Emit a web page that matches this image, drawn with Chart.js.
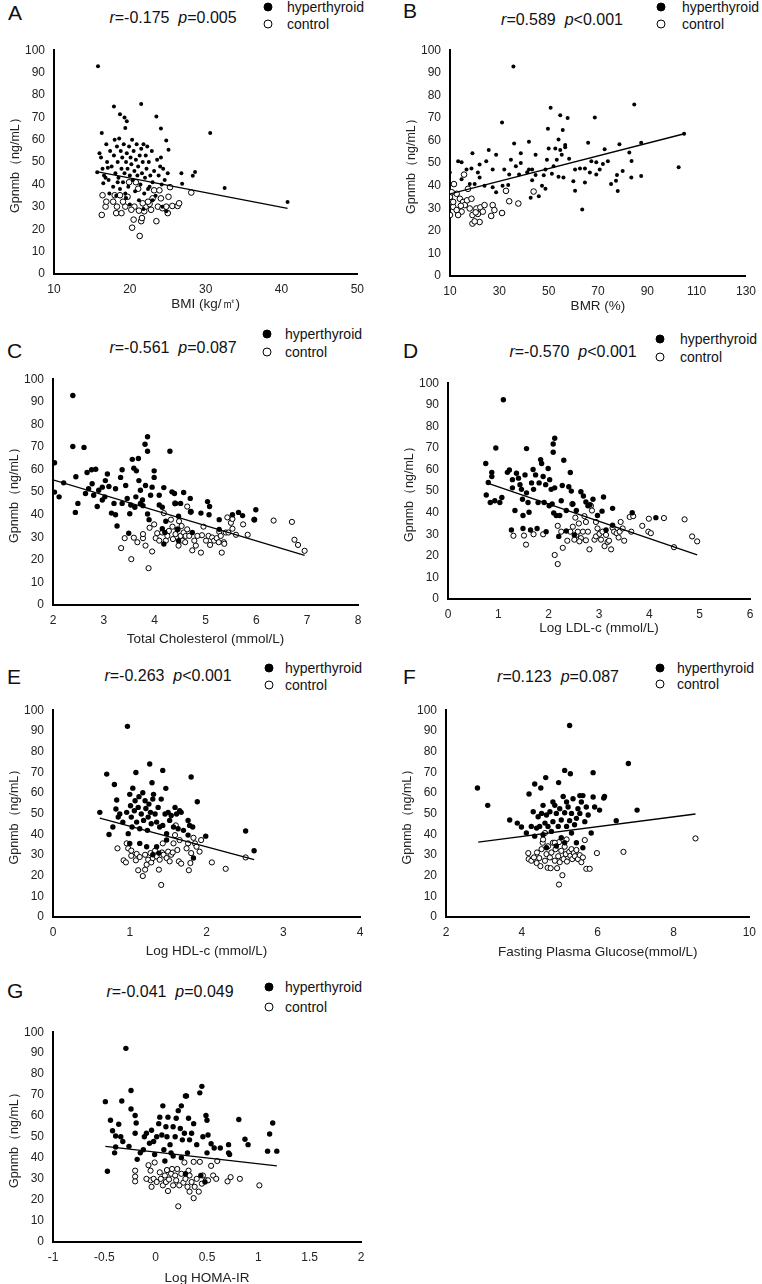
<!DOCTYPE html>
<html>
<head>
<meta charset="utf-8">
<script src="https://cdn.jsdelivr.net/npm/chart.js@4/dist/chart.umd.min.js"></script>
<style>
body{margin:0;background:#fff;width:762px;height:1284px;position:relative;overflow:hidden;font-family:Arial,"Liberation Sans",sans-serif;color:#111}
.box{position:absolute}
.tag{position:absolute;font-size:21px;line-height:1}
.stat{position:absolute;font-size:16px;white-space:nowrap;transform:translate(-50%,-50%)}
.key{position:absolute;font-size:14px;white-space:nowrap;line-height:1;transform:translateY(-50%)}
.mk{position:absolute;width:7px;height:7px;border-radius:50%;border:1px solid #000;transform:translate(-50%,-50%)}
</style>
</head>
<body>
<script>
// y axis is the same everywhere
const yTitle = 'Gpnmb（ng/mL）'
const yAxis = [0, 100, 10]

// A - BMI
const bmiAxis = [10, 50, 10]
const bmiHyper = [[15.8,92.8],[17.9,74.8],[21.5,76],[18.7,71.4],[19.3,69.9],[19.6,68.3],[23.5,70.4],[24.1,65],[19.4,65.2],[16.3,63],[30.6,63],[24.8,59.6],[25.1,55.5],[32.5,38.4],[40.8,32.2],[26.8,45],[26.9,40.3],[28.3,43.9],[28.6,45.6],
 [15.7,45.5],[16.0,54],[16.2,52],[16.4,47],[16.5,40.5],[16.6,44],[16.9,58],[17.0,50],[17.1,47.5],[17.2,42],[17.4,55],[17.6,48],[17.8,39],[17.9,53],[18.0,60],[18.1,45],[18.2,35],[18.3,57],[18.4,50],[18.5,43],[18.6,60.5],[18.7,38],[18.8,55],[18.9,47],[19.0,52],[19.1,41],[19.2,58],[19.3,45],[19.4,36],[19.5,50],[19.6,54],[19.7,47],[19.8,39],[19.9,57],[20.0,44],[20.1,52],[20.2,49],[20.3,60],[20.4,42],[20.5,55],[20.6,46],[20.7,37],[20.8,51],[20.9,58],[21.0,44],[21.1,48],[21.2,33],[21.3,53],[21.4,40],[21.5,56],[21.6,45],[21.7,50],[21.8,58],[21.9,36],[22.0,43],[22.1,53],[22.2,47],[22.3,57],[22.4,38],[22.5,50],[22.7,44],[22.9,55],[23.0,41],[23.2,46],[23.4,35],[23.6,51],[23.8,44],[24.0,48],[24.1,52],[24.2,40],[24.3,30],[24.4,47],[24.6,42],[24.8,28],[25.0,45],[20.0,31],[21.8,29],[23.0,33],[19.5,34],[22.6,39],[18.4,41],[17.3,36],[16.8,43]]
const bmiControl = [[16.3,26.4],[16.4,35.2],[16.8,30.1],[16.9,32.3],[17.8,32.3],[18,35.2],[18.2,27.2],[18.3,30.1],[18.9,27.2],[19.1,32.3],[19.4,30.1],[19.7,34.5],[19.9,41],[20.3,20.7],[20.5,24.3],[20.6,30.1],[20.8,41],[21.1,38.1],[21.2,28.3],[21.3,17],[21.5,23.6],[21.6,25],[21.9,28],[22.1,30.1],[22.6,31.3],[22.8,28.7],[23,33.8],[23.2,37.4],[23.5,23.6],[23.7,30.1],[23.9,37.4],[24.1,33.8],[24.3,29.4],[24.8,30.1],[25,27.2],[25.1,34.5],[25.3,38.8],[25.6,30.4],[26.3,30.4],[26.5,31.6],[28.1,36.4],[21.7,31.6],[22.4,32.3],[20.2,28.7],[18.7,35.2]]
const bmiFit = [[15.8,45.6],[40.8,29.3]]

// B - BMR
const bmrAxis = [10, 130, 20]
const bmrHyper = [[35.7,92.8],[31.1,68],[50.8,74.5],[54.7,71.2],[57.7,70],[68.7,70.2],[84.7,76],[55.7,64.7],[49.7,65.2],[104.9,63],[102.7,48.2],[63.6,29.5],[87.5,44.3],[87.5,59],[78.7,58.4],[72.7,56.1],[66,59],[82.7,54.7],[83.6,50.9],[83.5,43.6],[80,46.5],[77.7,44.7],[77.3,42.2],[78,37.6],[75.3,40.7],[74,50.8],[72,49.6],[69.3,50.4],[69.3,45],[66.7,45.8],[64.7,41.4],[62.7,47.6],[64.7,47.6],[60.7,47.2],[60.7,37.8],[58.3,51.9],[56.7,58],[56.7,57],[54.7,55.8],[54,60.4],[52.7,56.5],[52,48.6],[50,56.5],[49.3,51.5],[48.7,47.2],[48,44.6],[47.3,40],[46,35.3],[44.7,53.7],[43.3,47.2],[43.3,42.4],[42,59.4],[41.3,46],[38.7,54.4],[38.7,50],[36.7,48.6],[36,58.7],[34.7,51.5],[34,45],[33.6,40.3],[32,47.2],[31.3,40],[28.7,53.7],[27.3,47.2],[25.7,55.8],[24.7,50.8],[24,40],[22,49.4],[21.3,45.8],[20,40.7],[19.1,54.4],[18.7,47.6],[14.7,50.4],[13.3,50.8],[14.7,42.9],[9.9,45.8],[56,43.6],[51.3,45.3],[54,43.9],[44.7,44.7],[60,42],[48.7,38.6],[42.7,34.7],[27.3,39.3],[28.7,37.1],[22,43.6],[16.7,47.2],[18,40.7],[67.3,50.8],[70.7,47.2],[42,47.2],[38,45],[53.3,51.5],[55.3,53.7]]
const bmrControl = [[11.6,40.7],[15.7,44.9],[17.3,38.6],[10,35],[10,27],[10.7,32.8],[11.3,30.6],[12.7,36.4],[14,34.2],[14.7,28.5],[15.3,32.8],[16,31.4],[16.9,33.5],[18,29.9],[18.7,34.2],[19.1,27],[19.1,23.2],[20.7,29.9],[21.3,27.5],[22,23.9],[22.3,30.4],[23.3,28.5],[24,31.4],[27.3,31.4],[26.7,26.6],[28,29.2],[31.1,27.9],[32.7,37.7],[34,33.1],[37.7,32.1],[43.9,37.4],[12.7,29.2],[13.3,27],[11.3,32.8],[14.4,31.1],[20,24.2],[20.4,28.2],[10.7,37.1]]
const bmrFit = [[10,36.4],[105,63]]

// C - total cholesterol
const tcAxis = [2, 8, 1]
const tcHyper = [[2.39,92.8],[2.39,70.2],[2.61,69.8],[2.03,63],[2.03,50],[2.12,47.9],[2.21,54.1],[2.45,56.8],[2.44,41],[2.49,45],[2.64,49.4],[2.67,58.7],[2.76,59.9],[2.84,60.1],[2.77,53.7],[2.8,48.6],[2.87,43.6],[2.9,50.8],[2.97,52.2],[3.02,47.9],[3.07,58],[3.1,52.5],[3.15,40.7],[3.2,45],[3.23,51.5],[3.33,56.5],[3.36,59.9],[3.43,52.9],[3.46,47.2],[3.51,40.4],[3.56,64.5],[3.59,60.6],[3.68,64.9],[3.69,55.1],[3.72,50.8],[3.76,46.5],[3.81,71.2],[3.86,74.5],[3.82,52.9],[3.86,68.1],[3.92,48.6],[3.95,52.2],[3.99,59.4],[3.99,56.5],[3.64,59.4],[3.36,45],[3.53,44.3],[3.61,43.3],[3.72,45],[3.77,44],[3.86,40.3],[3.89,37.8],[4.09,44.3],[4.15,43.3],[4.18,52],[4.3,68.1],[4.34,50.1],[4.39,49.4],[4.41,45],[4.47,39.3],[4.51,45],[4.57,49.8],[4.7,47.2],[4.71,41.4],[4.91,40.7],[5.04,45.8],[5.07,40],[5.08,43.6],[5.27,37.8],[5.53,40],[5.65,41],[5.73,39.6],[5.96,37.8],[5.99,42.2],[4.2,32.1],[4.15,33.8],[3.49,31.8],[4.18,27],[4.47,28.5],[4.74,32.1],[5.27,33.5],[2.97,46.5],[3.23,40],[3.63,47.9],[4.09,48.6],[4.22,37.1],[4.45,33.5],[3.26,35],[2.7,51.5],[3.03,55.1]]
const tcControl = [[3.34,25.2],[3.41,29.6],[3.54,20.3],[3.59,29.8],[3.66,27.8],[3.77,29.6],[3.77,31.4],[3.82,26.3],[3.88,16.3],[3.9,34.2],[3.95,23.7],[3.99,35.7],[4.02,29.6],[4.05,31.8],[4.09,28.5],[4.15,32.1],[4.18,40.7],[4.22,28.5],[4.25,30.6],[4.28,32.8],[4.32,37.8],[4.35,34.7],[4.36,29.2],[4.4,45],[4.41,31.4],[4.45,33.5],[4.47,26.3],[4.48,37.1],[4.51,30.6],[4.53,35],[4.55,28.5],[4.57,32.1],[4.6,27.8],[4.61,30.6],[4.64,33.5],[4.64,43.6],[4.68,30.6],[4.71,41.2],[4.74,24.2],[4.81,26.3],[4.91,23.2],[4.93,30.9],[4.96,34.7],[5.01,28.5],[5.06,30.6],[5.09,26.6],[5.13,29.9],[5.17,28.5],[5.22,29.6],[5.26,27.8],[5.27,32.4],[5.3,30.6],[5.32,23.2],[5.36,27.8],[5.37,27.1],[5.4,32.1],[5.45,32.1],[5.43,38.8],[5.5,36.4],[5.53,38.1],[5.53,33.8],[5.6,31.1],[5.74,35.7],[5.83,31.1],[5.96,37.8],[6.34,37.4],[6.7,36.8],[6.75,28.9],[6.82,26.6],[6.95,24],[4.78,28.5],[4.84,30.6]]
const tcFit = [[2,55.4],[6.95,22]]

// D - log LDL-c
const ldlAxis = [0, 6, 1]
const ldlHyper = [[1.1,92.3],[0.95,70],[1.56,69.7],[2.12,74.5],[2.09,71.8],[2.09,68],[0.75,62.8],[0.76,48.2],[0.8,54],[0.87,58.7],[0.87,56.8],[0.84,44.7],[0.93,45.5],[1.03,44.7],[1.07,47],[1.18,58.7],[1.22,59.8],[1.28,55.3],[1.28,51.5],[1.33,41],[1.36,58.3],[1.4,56],[1.43,53],[1.46,50.8],[1.48,46.2],[1.49,38.7],[1.53,57.5],[1.56,49.2],[1.59,44.7],[1.61,40.2],[1.64,32],[1.66,53.8],[1.69,60],[1.7,50.8],[1.74,57.5],[1.77,32.7],[1.79,44.7],[1.81,53.8],[1.84,64.6],[1.86,62.8],[1.89,56.8],[1.91,44.7],[1.94,53],[1.99,60.5],[2.01,43.2],[2.02,55.3],[2.05,50.8],[2.07,44],[2.1,39.9],[2.12,51.5],[2.15,38.7],[2.2,29],[2.25,45.5],[2.27,52.6],[2.3,64.3],[2.35,41],[2.4,52],[2.43,58.6],[2.45,50],[2.48,44],[2.51,29.7],[2.55,41],[2.64,49.7],[2.69,47.7],[2.74,45],[2.78,43.2],[2.82,43.7],[2.88,46.2],[2.97,38.7],[3.06,40.7],[3.09,47.3],[3.14,32],[3.27,42],[3.66,40],[4.13,37.7],[1.26,32],[1.49,32.7],[1.95,31.2],[2.35,31.5],[3.27,34.2],[2.22,38.7]]
const ldlControl = [[1.3,29.3],[1.51,29.4],[1.55,25.2],[1.7,30],[1.89,30],[2.12,20.4],[2.18,16.2],[2.18,33.9],[2.25,31.2],[2.28,23.7],[2.37,27],[2.43,31.2],[2.47,44],[2.48,33.5],[2.51,27.5],[2.53,37.7],[2.55,29.7],[2.58,31.2],[2.6,35],[2.64,28.2],[2.68,31.2],[2.71,38.4],[2.74,27.2],[2.78,31.2],[2.81,23],[2.84,43.2],[2.86,41],[2.91,27.5],[2.94,29],[2.97,32.7],[3.01,30.2],[3.04,27.5],[3.07,31.2],[3.11,24.5],[3.14,29.7],[3.17,26.4],[3.2,27],[3.24,23],[3.27,33],[3.3,31.2],[3.35,30.5],[3.39,28.5],[3.41,31.2],[3.43,35.7],[3.47,32.7],[3.5,27],[3.61,38],[3.64,31.2],[3.68,38.4],[3.86,33.9],[3.99,37.2],[3.98,31.2],[4.03,30.5],[4.29,37.5],[4.49,24],[4.7,36.9],[4.85,29],[4.95,26.7],[2.74,35.7],[2.94,35.7],[2.61,26.7]]
const ldlFit = [[0.77,53.8],[4.95,20.4]]

// E - log HDL-c
const hdlAxis = [0, 4, 1]
const hdlHyper = [[0.97,92.2],[0.7,69.1],[1.08,69.9],[1.26,74],[1.43,70.9],[1.8,67.7],[0.8,64.1],[1.29,64.9],[1.47,62.2],[1.88,55.7],[0.61,50.6],[0.73,39.9],[0.78,43.5],[0.82,52.2],[0.83,56.6],[0.85,48.3],[0.87,49.8],[0.91,45.9],[0.96,50.6],[0.98,40.3],[1,59.3],[1.01,53.8],[1.02,48.3],[1.03,43.5],[1.04,62.3],[1.06,51.4],[1.07,56.2],[1.09,45.9],[1.11,53],[1.12,58.2],[1.13,42.7],[1.15,49.8],[1.17,60.1],[1.18,46.7],[1.2,56.2],[1.21,52.5],[1.23,41.9],[1.24,48.3],[1.25,54.6],[1.27,50.6],[1.28,45.1],[1.3,57],[1.31,59.3],[1.33,49.8],[1.35,45.9],[1.37,53],[1.39,43.5],[1.41,57],[1.43,44.3],[1.46,49.8],[1.48,40.3],[1.5,50.6],[1.52,46.7],[1.54,49.1],[1.57,43.5],[1.59,53],[1.61,49.8],[1.63,42.7],[1.65,51.4],[1.67,50.6],[1.7,41.9],[1.76,46.7],[1.78,44.3],[1.82,43.5],[1.76,39.6],[1.83,28.5],[1.99,39.1],[2.51,41.6],[2.62,32],[1.22,34],[1.35,34],[1.48,37.2],[1.13,35.6],[1,35.6],[1.38,30.9],[1.3,30.1]]
const hdlControl = [[0.84,33.2],[0.92,27.4],[0.95,26.4],[0.96,35.6],[0.98,33.2],[1.02,29.6],[1.02,32.1],[1.08,27.4],[1.09,30.5],[1.11,22.6],[1.13,29],[1.17,19.8],[1.2,30.1],[1.2,22.9],[1.22,25.3],[1.24,27.7],[1.27,30.9],[1.28,26.4],[1.3,28.5],[1.33,32.1],[1.35,29.3],[1.38,22.9],[1.39,27.7],[1.41,15.5],[1.42,31.2],[1.43,35.6],[1.44,30.1],[1.48,28.5],[1.5,31.6],[1.52,26.9],[1.54,30.1],[1.56,31.2],[1.57,35.6],[1.59,39.6],[1.6,44.3],[1.62,32.4],[1.64,26.9],[1.65,37.2],[1.67,25.8],[1.76,35.6],[1.77,22.6],[1.79,26.1],[1.8,30.9],[1.83,38.3],[1.85,35.6],[1.87,34],[1.91,31.6],[1.93,37.2],[2.07,26.4],[2.25,23.3],[2.51,28.8],[1.74,33.2]]
const hdlFit = [[0.61,47.8],[2.62,27.7]]

// F - fasting plasma glucose
const fpgAxis = [2, 10, 2]
const fpgHyper = [[5.26,92.6],[2.83,62.4],[3.1,54],[3.68,46.9],[3.88,45.4],[3.99,43.5],[4.19,59.5],[4.25,43.8],[4.34,64.3],[4.5,62.4],[4.63,67.4],[4.97,65],[5.13,70.9],[5.28,69.3],[5.88,69.8],[6.81,74.2],[7.04,51.7],[6.49,46.6],[6.16,57.5],[6.18,58.3],[6.05,51.7],[5.92,53.2],[5.88,58],[5.75,49.3],[5.7,53.2],[5.66,46.1],[5.61,58.7],[5.57,55.6],[5.53,50.1],[5.48,52.4],[5.44,47.7],[5.39,44.6],[5.35,57.2],[5.31,50.1],[5.26,46.6],[5.22,53.2],[5.18,43.8],[5.13,50.4],[5.09,58.3],[5.04,46.9],[5,52.4],[4.96,43.8],[4.91,50.1],[4.87,54],[4.82,46.1],[4.78,41.4],[4.74,50.9],[4.69,43.8],[4.65,49.3],[4.61,45.4],[4.56,39.8],[4.52,50.1],[4.47,43.8],[4.43,48.5],[4.39,43],[4.34,39.1],[4.3,50.9],[5.13,35.9],[5.44,35.9],[5.61,33.5],[4.91,34.3],[4.65,33.5],[5.83,40.6],[5.04,38.3],[5.31,40.6],[4.82,55.6],[5.18,55.6],[5.53,58.7],[4.56,54],[4.12,40.6]]
const fpgControl = [[4.17,30.9],[4.18,28],[4.25,27.2],[4.32,28.8],[4.39,26.1],[4.4,31.2],[4.46,28.5],[4.49,24.6],[4.52,32.8],[4.55,35.9],[4.56,37.5],[4.61,27.2],[4.65,30.4],[4.68,23.8],[4.69,34.2],[4.74,28.8],[4.76,23.6],[4.78,31.2],[4.82,35.9],[4.87,27.2],[4.89,32.8],[4.93,23.6],[4.96,29.4],[4.98,36.2],[5,26.5],[5.04,32],[5.07,20.2],[4.98,15.7],[5.1,28],[5.13,34],[5.16,30.4],[5.19,26.8],[5.25,31.5],[5.28,29.6],[5.31,32.8],[5.33,28],[5.37,30.9],[5.4,29.4],[5.44,32.4],[5.48,28],[5.53,29.9],[5.57,26.5],[5.61,28.8],[5.66,37.2],[5.7,23.3],[5.79,23.3],[5.98,30.9],[6.68,31.5],[8.58,38],[4.61,40.6],[4.87,35.9],[5.18,37.5]]
const fpgFit = [[2.85,36.2],[8.58,49.8]]

// G - log HOMA-IR
const homaAxis = [-1, 2, 0.5]
const homaHyper = [[-0.29,92.3],[-0.49,66.9],[-0.33,67.2],[-0.24,72.2],[-0.47,33.7],[-0.44,58],[-0.42,53],[-0.39,50.5],[-0.39,45.3],[-0.4,42.5],[-0.36,56.1],[-0.34,50.2],[-0.32,47.9],[-0.26,45.6],[-0.24,63.4],[-0.2,60.3],[-0.19,56.7],[-0.2,51.8],[-0.18,39.4],[-0.15,42.5],[-0.12,44],[-0.11,50.2],[-0.09,51.8],[-0.06,47.1],[-0.04,53.3],[-0.02,47.9],[-0.01,41.7],[0.01,50.2],[0.03,56.4],[0.04,59.5],[0.06,51],[0.07,64.9],[0.08,44],[0.1,54.9],[0.11,50.2],[0.12,59.5],[0.14,46.4],[0.15,42.5],[0.17,54.9],[0.19,50.2],[0.2,59],[0.22,62.6],[0.24,54.1],[0.25,64.9],[0.26,48.7],[0.28,51.8],[0.29,69.6],[0.3,69.6],[0.31,42.5],[0.32,59],[0.33,48.7],[0.35,51.8],[0.37,56.4],[0.4,46.4],[0.43,71.1],[0.45,74.2],[0.46,50.2],[0.49,60.3],[0.5,58],[0.5,42.5],[0.51,51],[0.54,46.8],[0.57,44.8],[0.63,44.8],[0.71,46.4],[0.72,41.7],[0.71,42.5],[0.81,58.4],[0.87,49],[0.9,46.4],[1.11,51.5],[1.14,56.7],[1.09,43.3],[1.18,43.3],[0.09,38.6],[0.17,41],[0.25,40.2],[0.29,32.5],[0.48,28.6],[0.44,31.7]]
const homaControl = [[-0.2,34],[-0.2,31.2],[-0.2,28.9],[-0.07,36.6],[-0.05,34],[-0.05,29.4],[-0.04,26.3],[-0.02,30.1],[-0.01,37.9],[0.01,28.6],[0.04,33.2],[0.05,30.1],[0.07,27],[0.09,31.7],[0.1,28.6],[0.11,34.3],[0.12,24.3],[0.13,29.8],[0.15,32.5],[0.16,34.8],[0.17,27],[0.19,31.7],[0.2,29.4],[0.21,34.8],[0.22,17],[0.23,27],[0.25,32.5],[0.27,28.3],[0.28,37.9],[0.29,30.1],[0.31,26.3],[0.32,34],[0.33,24],[0.33,31.7],[0.35,28.6],[0.37,38.2],[0.37,20.9],[0.38,26.3],[0.4,30.1],[0.42,24],[0.43,38.2],[0.45,27.8],[0.46,31.7],[0.49,29.4],[0.51,29.4],[0.54,36.3],[0.56,31.7],[0.59,30.1],[0.6,38.6],[0.7,28.9],[0.73,30.9],[0.82,30.1],[1.01,27],[-0.09,30.1]]
const homaFit = [[-0.49,45.6],[1.18,36.3]]

Chart.defaults.font.family = 'Arial, "Liberation Sans", sans-serif'
Chart.defaults.color = '#222'
Chart.defaults.animation = false

// plot area in page pixels: left, top, right, bottom; xTitleGap = axis to x title centre
const panels = [
  {tag:'A', r:'-0.175', p:'=0.005', xTitle:'BMI (kg/㎡)', axis:bmiAxis, hyper:bmiHyper, control:bmiControl, fit:bmiFit,
   area:[54,44,358,274], xTitleGap:30, tagPos:[8,12], statPos:[173,18], key:[268,7,24,287], dot:2, ring:2.8},
  {tag:'B', r:'0.589', p:'<0.001', xTitle:'BMR (%)', axis:bmrAxis, hyper:bmrHyper, control:bmrControl, fit:bmrFit,
   area:[450,44,750,276], xTitleGap:30, tagPos:[403,10], statPos:[562,20], key:[661,7,24,682], dot:2, ring:2.8},
  {tag:'C', r:'-0.561', p:'=0.087', xTitle:'Total Cholesterol (mmol/L)', axis:tcAxis, hyper:tcHyper, control:tcControl, fit:tcFit,
   area:[53,373,358,605], xTitleGap:34, tagPos:[7,350], statPos:[173,348], key:[267,334,352,285], dot:2.7, ring:2.6},
  {tag:'D', r:'-0.570', p:'<0.001', xTitle:'Log LDL-c (mmol/L)', axis:ldlAxis, hyper:ldlHyper, control:ldlControl, fit:ldlFit,
   area:[448,377,750,599], xTitleGap:29, tagPos:[403,350], statPos:[573,352], key:[660,339,357,680], dot:2.7, ring:2.6},
  {tag:'E', r:'-0.263', p:'<0.001', xTitle:'Log HDL-c (mmol/L)', axis:hdlAxis, hyper:hdlHyper, control:hdlControl, fit:hdlFit,
   area:[53,704,360,917], xTitleGap:34, tagPos:[7,676], statPos:[168,676], key:[269,668,685,285], dot:2.7, ring:2.6},
  {tag:'F', r:'0.123', p:'=0.087', xTitle:'Fasting Plasma Glucose(mmol/L)', axis:fpgAxis, hyper:fpgHyper, control:fpgControl, fit:fpgFit,
   area:[446,704,750,917], xTitleGap:35, tagPos:[403,676], statPos:[558,677], key:[660,668,684,677], dot:2.7, ring:2.6},
  {tag:'G', r:'-0.041', p:'=0.049', xTitle:'Log HOMA-IR', axis:homaAxis, hyper:homaHyper, control:homaControl, fit:homaFit,
   area:[53,1026,361,1242], xTitleGap:36, tagPos:[7,990], statPos:[170,992], key:[269,987,1007,285], dot:2.7, ring:2.6}
]

const Y_W = 50, TOP = 10, RIGHT = 14

function addText(cls, html, x, y) {
  const d = document.createElement('div')
  d.className = cls
  d.innerHTML = html
  d.style.left = x + 'px'
  d.style.top = y + 'px'
  document.body.appendChild(d)
  return d
}

function fmt(v) { return String(Math.round(v * 10) / 10) }

panels.forEach(pn => {
  const [l, t, r, b] = pn.area
  const xH = pn.xTitleGap + 12
  const box = document.createElement('div')
  box.className = 'box'
  const left = l - Y_W, top = t - TOP
  box.style.left = left + 'px'
  box.style.top = top + 'px'
  box.style.width = (r + RIGHT - left) + 'px'
  box.style.height = (b + xH - top) + 'px'
  const cv = document.createElement('canvas')
  box.appendChild(cv)
  document.body.appendChild(box)

  new Chart(cv, {
    type: 'scatter',
    data: {
      datasets: [
        {data: pn.fit, showLine: true, borderColor: '#000', borderWidth: 1.3, pointRadius: 0},
        {label: 'hyperthyroid', data: pn.hyper, pointRadius: pn.dot, backgroundColor: '#000', borderColor: '#000', borderWidth: 0},
        {label: 'control', data: pn.control, pointRadius: pn.ring, backgroundColor: '#fff', borderColor: '#000', borderWidth: 1}
      ]
    },
    options: {
      responsive: true,
      maintainAspectRatio: false,
      layout: {padding: {top: TOP, right: RIGHT, left: 0, bottom: 0}},
      plugins: {legend: {display: false}, tooltip: {enabled: false}},
      scales: {
        x: {
          type: 'linear', min: pn.axis[0], max: pn.axis[1],
          grid: {display: false, drawTicks: false},
          border: {display: true, color: '#000', width: 2},
          ticks: {stepSize: pn.axis[2], padding: 8, color: '#222', font: {size: 12}, callback: fmt},
          title: {display: true, text: pn.xTitle, color: '#222', font: {size: 13.5}},
          afterFit: s => { s.height = xH }
        },
        y: {
          min: yAxis[0], max: yAxis[1],
          grid: {display: false, drawTicks: false},
          border: {display: true, color: '#000', width: 2},
          ticks: {stepSize: yAxis[2], padding: 9, color: '#222', font: {size: 12}, callback: fmt},
          title: {display: true, text: yTitle, color: '#222', font: {size: 12.5}},
          afterFit: s => { s.width = Y_W }
        }
      }
    }
  })

  addText('tag', pn.tag, pn.tagPos[0], pn.tagPos[1] - 10)
  addText('stat', '<i>r</i>=' + pn.r + '&nbsp;&nbsp;<i>p</i>' + pn.p, pn.statPos[0], pn.statPos[1])
  const [kx, k1, k2, tx] = pn.key
  const m1 = addText('mk', '', kx, k1); m1.style.background = '#000'
  const m2 = addText('mk', '', kx, k2); m2.style.background = '#fff'
  addText('key', 'hyperthyroid', tx, k1)
  addText('key', 'control', tx, k2)
})
</script>
</body>
</html>
